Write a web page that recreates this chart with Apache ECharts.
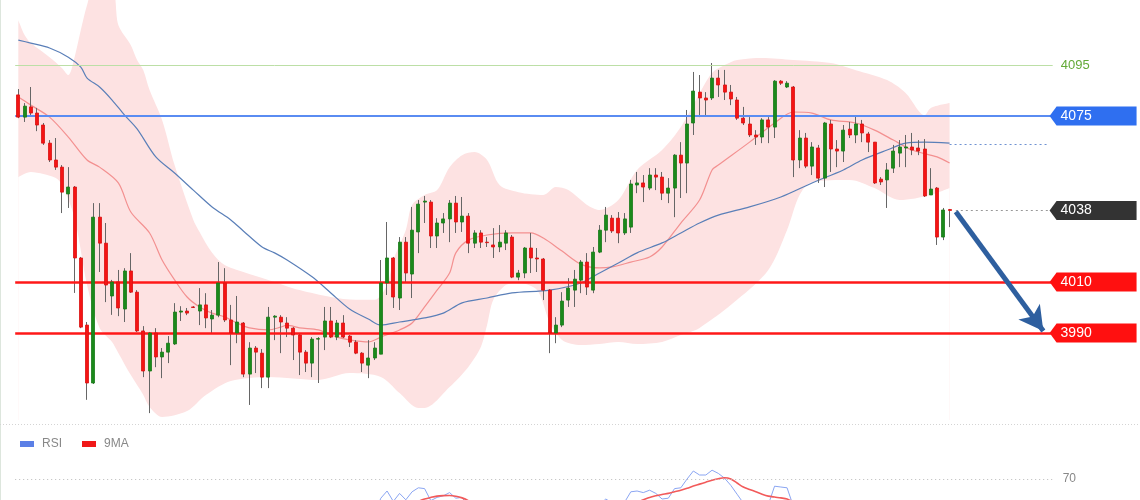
<!DOCTYPE html>
<html><head><meta charset="utf-8">
<script src="https://cdn.jsdelivr.net/npm/echarts@6/dist/echarts.min.js"></script>
<style>html,body{margin:0;padding:0;background:#fff}#c{width:1140px;height:500px}</style>
</head><body><div id="c"></div>
<script>
// ---- candle data (index 0..149) ----
const opens = [4083.3,4074.6,4078.6,4076.2,4071.5,4064.4,4057.8,4055.0,4044.5,4047.2,
4019.4,3993.1,3970.4,4035.4,4025.2,4004.5,4010.0,3999.4,4014.3,4006.0,
3990.8,3975.1,3990.0,3980.6,3982.5,3985.7,3998.2,3998.6,4000.2,3998.6,
4001.0,3995.5,3997.0,4009.6,3995.1,3990.0,3993.9,3973.9,3984.1,3982.1,
3972.7,3996.2,3996.2,3993.9,3991.9,3989.2,3982.5,3978.2,3987.6,3988.4,
3994.7,3988.4,3993.9,3988.8,3986.4,3982.1,3977.4,3980.2,3981.7,4009.6,
4019.4,4003.7,4025.6,4013.1,4029.6,4041.3,4041.3,4028.0,4033.1,4034.7,
4040.9,4033.5,4035.8,4025.2,4029.2,4025.6,4024.5,4023.7,4025.2,4027.6,
4011.9,4013.5,4023.3,4019.4,4019.0,4006.8,3990.0,3993.1,4002.9,4006.8,
4010.7,4017.8,4006.8,4021.7,4030.3,4035.0,4035.0,4029.2,4031.5,4048.0,
4048.8,4046.8,4051.9,4051.1,4044.8,4046.8,4059.7,4056.6,4072.3,4084.4,
4082.1,4082.1,4089.9,4087.2,4084.4,4081.3,4074.2,4071.9,4067.6,4066.8,
4073.5,4070.7,4088.7,4086.4,4086.4,4057.8,4066.4,4055.4,4062.5,4050.7,
4071.9,4062.1,4061.3,4069.9,4067.6,4071.9,4068.0,4064.8,4050.3,4050.0,
4054.6,4060.5,4062.5,4062.9,4062.5,4062.1,4044.1,4046.8,4027.6,4038.4];
const closes = [4074.6,4078.9,4076.2,4071.5,4064.4,4057.8,4055.0,4045.2,4047.2,4019.4,
3992.3,3970.4,4035.4,4025.2,4008.8,4010.0,3999.8,4014.3,4006.0,3990.8,
3975.1,3990.0,3980.6,3982.5,3986.0,3998.2,3998.6,3997.8,4000.0,4001.0,
3995.9,3997.0,4009.6,3995.1,3990.0,3994.3,3973.9,3984.1,3982.5,3972.7,
3996.2,3996.6,3994.3,3991.9,3989.2,3982.5,3978.2,3987.6,3987.8,3994.7,
3988.4,3993.9,3988.4,3986.4,3982.1,3978.2,3980.2,3984.1,4009.6,4019.4,
4004.1,4025.6,4013.5,4030.3,4040.5,4041.7,4028.0,4033.1,4034.7,4040.9,
4033.5,4035.8,4025.2,4029.2,4025.6,4025.4,4023.7,4025.6,4029.2,4011.9,
4013.5,4023.3,4019.4,4019.0,4006.8,3990.0,3993.1,4002.5,4007.6,4011.1,
4017.8,4008.0,4021.7,4030.3,4036.2,4030.0,4029.2,4034.7,4048.4,4048.8,
4047.2,4051.9,4051.1,4044.8,4046.8,4059.7,4056.6,4071.9,4084.8,4082.1,
4081.3,4089.9,4087.2,4084.4,4081.7,4074.2,4072.3,4067.6,4066.8,4073.5,
4070.7,4088.7,4087.9,4087.9,4057.8,4066.4,4055.4,4062.9,4050.7,4072.3,
4062.1,4061.3,4069.5,4067.6,4071.9,4068.4,4064.8,4048.8,4049.2,4053.9,
4061.3,4062.9,4062.9,4061.7,4061.3,4043.7,4046.4,4027.6,4038.2,4038.0];
const highs = [4085.6,4080.1,4086.4,4078.2,4072.3,4065.6,4066.4,4055.8,4055.0,4047.6,
4019.8,3994.3,4040.9,4040.9,4033.1,4010.8,4014.7,4015.4,4021.3,4006.8,
3992.7,3990.4,3991.9,3984.1,3988.8,4001.7,4000.5,3999.8,4000.5,4007.6,
4005.6,3999.0,4017.8,4015.4,4001.0,4004.5,3994.3,3986.4,3984.9,3983.7,
4000.2,3997.0,3997.0,3996.2,3992.3,3990.0,3983.3,3988.4,3988.4,4000.2,
4000.2,3995.1,3997.0,3989.2,3987.2,3982.5,3987.2,3986.4,4018.6,4033.5,
4019.8,4027.6,4027.6,4039.4,4042.1,4043.7,4042.1,4035.0,4037.0,4042.1,
4043.7,4043.3,4037.0,4030.3,4030.3,4027.6,4031.1,4032.3,4030.3,4028.4,
4014.7,4023.7,4029.2,4023.3,4019.4,4007.2,3996.2,4006.0,4011.5,4014.7,
4018.6,4021.3,4023.7,4032.3,4039.4,4036.2,4037.4,4037.0,4050.0,4053.1,
4051.9,4054.6,4054.6,4053.1,4050.7,4060.1,4064.8,4077.4,4092.3,4091.1,
4084.4,4095.8,4093.1,4093.1,4087.2,4082.5,4078.6,4074.6,4069.5,4074.2,
4074.6,4089.1,4089.1,4088.7,4086.8,4069.5,4068.4,4064.8,4063.7,4072.7,
4073.5,4065.6,4071.5,4072.7,4075.4,4073.5,4068.8,4064.8,4051.1,4056.6,
4063.7,4065.6,4067.6,4068.4,4065.6,4066.0,4054.6,4047.2,4039.0,4038.6];
const lows = [4074.2,4072.7,4075.4,4069.1,4063.7,4057.0,4053.9,4037.0,4039.0,4005.7,
3991.9,3963.8,3970.0,4013.9,4002.1,3997.1,3996.6,3994.3,4005.7,3990.4,
3972.7,3958.6,3976.6,3972.3,3978.2,3985.3,3994.7,3997.0,3999.8,3993.1,
3991.9,3990.0,3996.2,3994.3,3977.4,3986.0,3972.7,3961.8,3974.3,3968.4,
3968.4,3987.2,3982.1,3988.4,3979.4,3973.5,3974.7,3972.7,3970.4,3983.3,
3988.0,3987.2,3988.0,3984.5,3981.7,3974.7,3972.3,3979.4,3981.7,4004.9,
3999.8,3999.0,4009.6,4003.7,4021.3,4033.1,4023.3,4023.3,4029.2,4025.6,
4029.2,4029.6,4021.3,4023.3,4023.3,4023.7,4019.4,4021.7,4022.5,4011.5,
4010.7,4011.5,4013.5,4013.9,4002.9,3982.1,3986.0,3992.3,4000.2,4000.2,
4005.6,4004.9,4005.6,4021.3,4025.6,4029.2,4025.2,4028.4,4029.2,4044.8,
4041.3,4046.0,4046.0,4042.1,4040.9,4035.4,4042.9,4044.8,4067.6,4074.6,
4075.4,4081.3,4082.5,4081.3,4079.3,4073.5,4071.5,4066.8,4063.7,4064.4,
4064.4,4066.4,4087.2,4086.0,4051.1,4054.6,4054.6,4051.9,4048.8,4047.2,
4053.1,4055.0,4057.0,4066.4,4064.4,4064.8,4060.9,4048.4,4048.0,4039.0,
4052.7,4055.0,4055.0,4059.7,4059.7,4043.3,4044.1,4024.5,4026.4,4031.5];

// ---- indicator lines: [candle index, value] ----
const maFast = [[0,4082.5],[2,4079.3],[5,4074.6],[8,4066.8],[11,4057.8],[13,4055.0],[16,4048.8],[18,4037.4],[21,4029.2],[23,4018.6],[25,4010.8],[27,4004.1],[29,4000.2],[31,3997.8],[33,3996.3],[35,3993.9],[37,3992.0],[40,3991.2],[42,3992.3],[43,3993.1],[45,3992.0],[48,3991.2],[51,3988.4],[53,3987.3],[56,3986.5],[58,3988.4],[61,3991.2],[63,3993.9],[65,4000.2],[67,4006.8],[69,4013.5],[70,4021.4],[72,4026.4],[75,4028.4],[79,4029.2],[82,4029.2],[84,4027.2],[87,4022.1],[90,4017.0],[93,4015.5],[95,4015.9],[98,4017.8],[101,4019.8],[103,4023.7],[106,4033.1],[109,4042.1],[111,4053.9],[112,4055.8],[117,4064.8],[121,4072.3],[124,4076.6],[127,4076.2],[130,4073.5],[134,4072.3],[137,4069.5],[140,4065.6],[143,4061.7],[147,4059.0],[149,4056.6]];
const maSlow = [[0,4104.8],[2,4103.6],[5,4101.7],[8,4098.1],[10,4094.2],[11,4089.9],[13,4086.4],[15,4081.3],[17,4075.4],[19,4070.0],[22,4059.0],[25,4052.7],[28,4046.0],[31,4039.4],[34,4034.3],[36,4030.0],[39,4023.7],[41,4021.4],[43,4018.6],[47,4012.0],[50,4005.7],[53,3999.4],[56,3995.5],[58,3993.1],[61,3994.3],[65,3995.9],[68,3997.8],[71,4001.8],[75,4003.7],[79,4005.7],[85,4006.8],[90,4009.6],[93,4013.5],[96,4017.4],[99,4021.4],[103,4025.3],[106,4029.2],[109,4033.1],[112,4036.2],[117,4039.4],[122,4043.3],[127,4048.8],[132,4053.9],[135,4057.8],[139,4061.7],[142,4064.4],[145,4064.8],[149,4064.4]];
const bandUpper = [[0,4112.6],[1,4106.8],[2,4103.6],[5,4098.1],[7,4093.8],[8,4091.1],[9,4098.1],[10,4108.7],[11,4118.5],[12,4124.4],[15,4124.4],[16,4110.7],[18,4102.8],[19,4097.0],[20,4093.0],[21,4085.2],[23,4073.5],[25,4055.8],[28,4034.3],[29,4029.6],[31,4021.4],[33,4016.6],[36,4013.9],[40,4010.8],[45,4006.8],[50,4004.1],[54,4003.0],[57,4003.0],[59,4008.8],[60,4018.6],[62,4030.4],[63,4040.2],[65,4044.1],[67,4046.0],[69,4055.0],[71,4059.7],[73,4060.9],[75,4057.8],[77,4048.0],[80,4045.2],[84,4044.1],[86,4047.2],[88,4046.0],[91,4040.2],[93,4038.2],[96,4042.1],[99,4053.9],[103,4061.7],[106,4070.7],[109,4084.0],[111,4091.9],[113,4095.0],[115,4097.0],[119,4097.8],[124,4097.0],[130,4095.8],[134,4093.0],[139,4089.1],[142,4084.0],[145,4075.4],[146,4078.2],[149,4080.1]];
const bandLower = [[0,4051.1],[2,4053.1],[4,4052.3],[6,4050.7],[7,4048.0],[9,4035.1],[11,4008.8],[13,3992.0],[15,3986.5],[16,3982.2],[18,3973.5],[20,3965.7],[21,3961.0],[23,3957.1],[27,3959.4],[30,3965.7],[34,3971.2],[40,3972.8],[48,3971.6],[53,3974.3],[58,3972.8],[61,3966.5],[64,3960.6],[65,3960.6],[69,3968.8],[72,3976.7],[74,3984.5],[75,3993.1],[76,4003.0],[78,4008.8],[80,4009.6],[83,4006.8],[85,3994.3],[87,3987.3],[90,3985.3],[93,3985.7],[96,3986.5],[99,3985.7],[103,3986.5],[106,3989.2],[109,3992.0],[115,4003.0],[120,4014.7],[123,4030.4],[125,4044.1],[127,4049.2],[133,4050.0],[137,4046.8],[141,4042.1],[146,4044.1],[149,4046.8]];

// ---- RSI panel (visible parts only) ----
const rsiSeg1 = [[57,48],[58,58],[59,62.5],[60,56],[61,61],[62,57],[63,62],[64,64.5],[65,64],[66,56.5],[67,58.5],[68,59.5],[69,61.5],[70,58],[71,58.5],[72,53],[73,50]];
const rsiSeg2 = [[92,52],[93,54],[94,57.5],[95,55],[96,54],[97,55.5],[98,62],[99,62.5],[100,61.5],[101,63],[102,61],[103,57.5],[104,58],[105,64],[106,64.5],[107,70],[108,75],[109,72.5],[110,72.5],[111,75.5],[112,73.5],[113,70.5],[114,66],[115,60.5],[116,55],[117,52],[118,51],[119,50],[120,54],[121,65.5],[122,65],[123,64.5],[124,53],[125,50]];
const rsiMaSeg1 = [[62,52],[63,54],[64,56],[65,57.5],[66,58.5],[67,59.3],[68,59.6],[69,59.7],[70,59.2],[71,58.2],[72,56.5],[73,54],[74,52]];
const rsiMaSeg2 = [[98,54],[99,55.5],[100,57],[101,58.5],[102,59.5],[103,60.3],[104,61],[105,62],[106,63],[107,64.2],[108,65.6],[109,66.8],[110,68],[111,69.2],[112,70.2],[113,70.8],[114,70],[115,67.5],[116,65],[117,63.5],[118,62],[119,60.5],[120,59.3],[121,58.7],[122,58.2],[123,57.5],[124,55.5],[125,53]];

// ---- levels ----
const targetLevel = 4095;
const resistLevel = 4075;
const supportLevels = [4010, 3990];
const lastPrice = 4038;
const slowMaLast = 4064.1;
const rsiLevel = 70;
const slotCount = 166;
const arrowFrom = [150, 4037.5];
const arrowTo = [164, 3990.8];

const FONT = '"Liberation Sans", Arial, sans-serif';
const categories = Array.from({length: slotCount}, (_, i) => String(i));
const wickData = opens.map((o, i) => [o, closes[i], lows[i], highs[i]]);
const bodyData = opens.map((o, i) => [o, closes[i], Math.min(o, closes[i]), Math.max(o, closes[i])]);

const tagShape = 'path://M0,9.5L7,0L87,0L87,19L7,19Z';
const tags = [
  {v: resistLevel, c: '#2f6ff0'},
  {v: lastPrice, c: '#333333'},
  {v: supportLevels[0], c: '#ff1010'},
  {v: supportLevels[1], c: '#ff1010'}
];

const chart = echarts.init(document.getElementById('c'), null, {renderer: 'canvas'});
const lineBase = {type: 'line', symbol: 'none', silent: true, animation: false, xAxisIndex: 0, yAxisIndex: 0};

chart.setOption({
  animation: false,
  backgroundColor: '#ffffff',
  textStyle: {fontFamily: FONT},
  grid: [
    {left: 15.2, width: 1037.5, top: 0, height: 420},
    {left: 15.2, width: 1037.5, top: 431, height: 69}
  ],
  xAxis: [
    {type: 'category', data: categories, gridIndex: 0, show: false, boundaryGap: true},
    {type: 'category', data: categories, gridIndex: 1, show: false, boundaryGap: true}
  ],
  yAxis: [
    {type: 'value', gridIndex: 0, min: 3955.9, max: 4120.5, show: false, splitLine: {show: false}},
    {type: 'value', gridIndex: 1, min: 56.875, max: 100, show: false, splitLine: {show: false}}
  ],
  legend: {
    data: ['RSI', '9MA'], left: 15, top: 433, icon: 'rect', itemWidth: 14, itemHeight: 6, itemGap: 20,
    textStyle: {color: '#888', fontSize: 12, fontFamily: FONT, padding: [0, 0, 0, 3]}, selectedMode: false
  },
  graphic: [
    {type: 'line', shape: {x1: 0.5, y1: 0, x2: 0.5, y2: 500}, style: {stroke: '#dde6dd', lineWidth: 1}, silent: true},
    {type: 'line', shape: {x1: 0, y1: 424.5, x2: 1140, y2: 424.5}, style: {stroke: '#d4d4d4', lineWidth: 1, lineDash: [1, 2]}, silent: true}
  ],
  series: [
    Object.assign({}, lineBase, {name: 'bbU', z: 1, smooth: 0.3, data: bandUpper,
      lineStyle: {width: 0, color: 'transparent'}, areaStyle: {color: '#fde2e2', opacity: 1, origin: 'start'}}),
    Object.assign({}, lineBase, {name: 'bbL', z: 2, smooth: 0.3, data: bandLower,
      lineStyle: {width: 0, color: 'transparent'}, areaStyle: {color: '#ffffff', opacity: 1, origin: 'start'}}),
    Object.assign({}, lineBase, {name: 'maF', z: 3, smooth: 0.3, data: maFast,
      lineStyle: {width: 1.2, color: '#f39090'}}),
    Object.assign({}, lineBase, {name: 'maS', z: 3, smooth: 0.3, data: maSlow,
      lineStyle: {width: 1.2, color: '#5a7fb8'}}),
    {type: 'candlestick', name: 'wick', z: 4, silent: true, data: wickData, barWidth: 0.5, animation: false,
      itemStyle: {color: '#666666', color0: '#666666', borderColor: '#666666', borderColor0: '#666666', borderColorDoji: '#666666', borderWidth: 1}},
    {type: 'candlestick', name: 'body', z: 5, silent: true, data: bodyData, barWidth: 3.6, animation: false,
      itemStyle: {color: '#1b8a1b', color0: '#f51414', borderColor: '#187a18', borderColor0: '#d81010', borderColorDoji: '#555', borderWidth: 0.8}},
    Object.assign({}, lineBase, {name: 'levels', z: 6, data: [],
      markLine: {
        silent: true, animation: false, symbol: 'none', label: {show: false},
        data: [
          {yAxis: targetLevel, lineStyle: {color: '#bcdfa6', width: 1, type: 'solid'},
            label: {show: true, position: 'end', distance: 8, formatter: String(targetLevel), color: '#64aa38', fontSize: 13, fontFamily: FONT}},
          {yAxis: resistLevel, lineStyle: {color: '#5a8cf2', width: 2, type: 'solid'}},
          {yAxis: supportLevels[0], lineStyle: {color: '#ff1818', width: 2.5, type: 'solid'}},
          {yAxis: supportLevels[1], lineStyle: {color: '#ff1818', width: 2.5, type: 'solid'}},
          [{coord: [150, lastPrice], lineStyle: {color: '#999999', width: 1, type: [2, 3]}}, {coord: [slotCount - 1, lastPrice]}],
          [{coord: [149, slowMaLast], lineStyle: {color: '#6f92d2', width: 1, type: [2, 3]}}, {coord: [slotCount - 1, slowMaLast]}],
          [{coord: arrowFrom, symbol: 'none', lineStyle: {color: '#2e5f9f', width: 5, type: 'solid'}},
           {coord: arrowTo, symbol: 'arrow', symbolSize: [20, 24]}]
        ]
      }}),
    Object.assign({}, lineBase, {name: 'tags', z: 7, data: [],
      markPoint: {
        silent: true, animation: false,
        symbol: tagShape, symbolSize: [87, 19], symbolOffset: [43.5, 0], symbolKeepAspect: false,
        label: {show: true, position: 'insideLeft', distance: 11, color: '#ffffff', fontSize: 14, fontFamily: FONT},
        data: tags.map(t => ({coord: [slotCount - 1, t.v], value: t.v, itemStyle: {color: t.c}}))
      }}),
    {type: 'line', name: 'RSI', xAxisIndex: 1, yAxisIndex: 1, symbol: 'none', silent: true, data: rsiSeg1,
      itemStyle: {color: '#5b7fe6'}, lineStyle: {color: '#8aa5f2', width: 1},
      markLine: {silent: true, symbol: 'none', animation: false,
        data: [{yAxis: rsiLevel, lineStyle: {color: '#bbbbbb', width: 1, type: [1, 3]},
          label: {show: true, position: 'end', distance: 10, formatter: String(rsiLevel), color: '#888', fontSize: 12, fontFamily: FONT}}]}},
    {type: 'line', name: 'RSI', xAxisIndex: 1, yAxisIndex: 1, symbol: 'none', silent: true, data: rsiSeg2,
      itemStyle: {color: '#5b7fe6'}, lineStyle: {color: '#8aa5f2', width: 1}},
    {type: 'line', name: '9MA', xAxisIndex: 1, yAxisIndex: 1, symbol: 'none', silent: true, smooth: 0.3, data: rsiMaSeg1,
      itemStyle: {color: '#f01818'}, lineStyle: {color: '#f25a5a', width: 1.6}},
    {type: 'line', name: '9MA', xAxisIndex: 1, yAxisIndex: 1, symbol: 'none', silent: true, smooth: 0.3, data: rsiMaSeg2,
      itemStyle: {color: '#f01818'}, lineStyle: {color: '#f25a5a', width: 1.6}}
  ]
});
</script></body></html>
